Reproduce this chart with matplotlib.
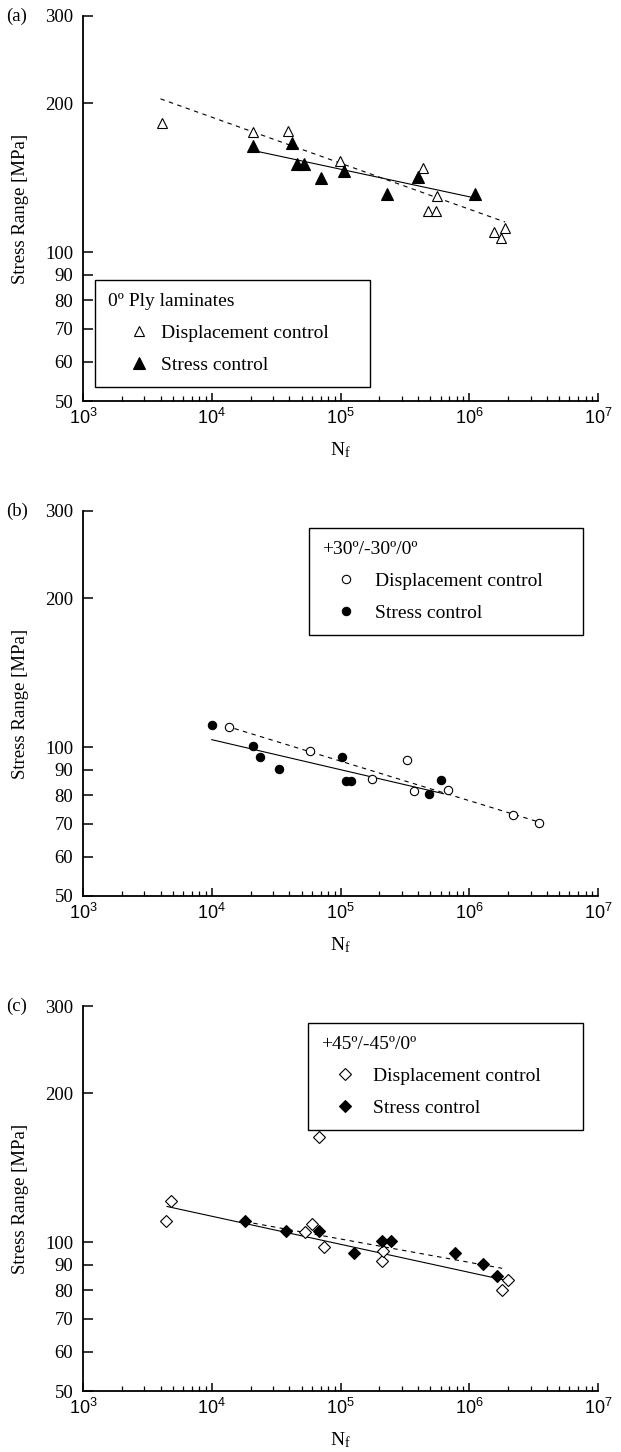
import matplotlib
matplotlib.use("Agg")
import matplotlib.pyplot as plt
from matplotlib.lines import Line2D
from matplotlib.ticker import LogLocator, NullFormatter, NullLocator

plt.rcParams['font.family'] = ['Liberation Serif', 'DejaVu Serif']

# panel (a): 0 deg ply laminates
a_disp_n = [4.1e3, 2.1e4, 3.9e4, 9.9e4, 4.0e5, 4.4e5, 4.8e5, 5.5e5, 5.6e5, 1.55e6, 1.75e6, 1.9e6]
a_disp_s = [182, 175, 176, 153, 142, 148, 121, 121, 130, 110, 107, 112]
a_str_n = [2.1e4, 4.2e4, 4.6e4, 5.2e4, 7.1e4, 1.07e5, 2.3e5, 4.0e5, 1.1e6]
a_str_s = [164, 166, 151, 151, 141, 146, 131, 142, 131]
a_solid_n = [2.2e4, 1.05e6]
a_solid_s = [160, 129]
a_dash_n = [4.0e3, 1.9e6]
a_dash_s = [204, 115]

# panel (b): +30/-30/0
b_disp_n = [1.37e4, 5.8e4, 1.77e5, 3.3e5, 3.7e5, 6.8e5, 2.2e6, 3.5e6]
b_disp_s = [110, 98, 86, 94, 81.5, 82, 73, 70.3]
b_str_n = [1.0e4, 2.1e4, 2.35e4, 3.3e4, 1.03e5, 1.1e5, 1.2e5, 4.9e5, 6.0e5]
b_str_s = [111, 100.5, 95.3, 90.3, 95.3, 85.5, 85.5, 80.4, 85.8]
b_solid_n = [1.0e4, 6.3e5]
b_solid_s = [103.5, 80.5]
b_dash_n = [1.5e4, 3.5e6]
b_dash_s = [109, 70.5]

# panel (c): +45/-45/0
c_disp_n = [4.4e3, 4.8e3, 5.3e4, 6.0e4, 6.8e4, 7.4e4, 2.1e5, 2.15e5, 1.8e6, 2.0e6]
c_disp_s = [110.5, 121, 104.6, 109, 163, 97.8, 91.5, 96, 80, 84]
c_str_n = [1.8e4, 3.8e4, 6.8e4, 1.28e5, 2.1e5, 2.45e5, 7.8e5, 1.28e6, 1.65e6]
c_str_s = [110.4, 105.4, 105.4, 95.2, 100.5, 100.3, 95.2, 90.3, 85.4]
c_solid_n = [4.5e3, 2.0e6]
c_solid_s = [118, 83.5]
c_dash_n = [1.8e4, 1.8e6]
c_dash_s = [110, 88.5]

y_ticks = [50, 60, 70, 80, 90, 100, 200, 300]
x_ticks = [1e3, 1e4, 1e5, 1e6, 1e7]
x_labels = [r'$\mathregular{10^{%d}}$' % e for e in range(3, 8)]

W, H = 621, 1452
fig = plt.figure(figsize=(W / 100, H / 100), dpi=100)


def draw_panel(top, tag, title, mk, ms_open, ms_fill, disp, strs, solid, dash, box, hl, htp):
    ax = fig.add_axes([83 / W, 1 - (top + 385) / H, 515 / W, 385 / H])
    ax.set_xscale('log')
    ax.set_yscale('log')

    ax.plot(solid[0], solid[1], color='black', lw=0.8, zorder=2)
    ax.plot(dash[0], dash[1], color='black', lw=0.8, ls=(0, (4, 4)), zorder=2)
    ax.plot(disp[0], disp[1], ls='none', marker=mk, ms=ms_open, mfc='white',
            mec='black', mew=0.8, zorder=3)
    ax.plot(strs[0], strs[1], ls='none', marker=mk, ms=ms_fill, mfc='black',
            mec='black', mew=0.8, zorder=4)

    ax.set_xlim(1e3, 1e7)
    ax.set_ylim(50, 300)
    ax.set_yticks(y_ticks, labels=[str(v) for v in y_ticks])
    ax.yaxis.set_minor_locator(NullLocator())
    ax.set_xticks(x_ticks, labels=x_labels)
    ax.xaxis.set_minor_locator(LogLocator(base=10, subs=range(2, 10)))
    ax.xaxis.set_minor_formatter(NullFormatter())
    for lab in ax.get_xticklabels():
        lab.set_fontfamily('Liberation Sans')

    for side in ['top', 'right']:
        ax.spines[side].set_visible(False)
    for side in ['left', 'bottom']:
        ax.spines[side].set_linewidth(1.3)

    ax.tick_params(axis='y', which='major', direction='in', length=7, width=1.1,
                   pad=7, labelsize=13.5)
    ax.tick_params(axis='x', which='major', direction='in', length=5.5, width=1.1,
                   pad=5, labelsize=13)
    ax.tick_params(axis='x', which='minor', direction='in', length=3.5, width=0.9)

    ax.set_ylabel('Stress Range [MPa]', fontsize=13.5)
    ax.yaxis.set_label_coords(-0.105, 0.5)
    ax.set_xlabel(r'$\mathregular{N_f}$', fontsize=14)
    ax.xaxis.set_label_coords(0.5, -0.103)
    ax.text(-0.149, 1.0, tag, transform=ax.transAxes, ha='left', va='center',
            fontsize=13.5)

    handles = [
        Line2D([], [], ls='none', marker=mk, ms=ms_open, mfc='white', mec='black', mew=0.8),
        Line2D([], [], ls='none', marker=mk, ms=ms_fill, mfc='black', mec='black', mew=0.8),
    ]
    x0, y0, x1, y1 = box
    leg = ax.legend(handles, ['Displacement control', 'Stress control'], title=title,
                    loc='upper left',
                    bbox_to_anchor=(x0 / W, 1 - y1 / H, (x1 - x0) / W, (y1 - y0) / H),
                    bbox_transform=fig.transFigure, mode='expand', borderaxespad=0,
                    alignment='left', fancybox=False, edgecolor='black', framealpha=1,
                    borderpad=0.65, labelspacing=0.75, handlelength=hl,
                    handletextpad=htp, prop={'size': 14}, title_fontsize=14,
                    numpoints=1)
    leg.get_frame().set_linewidth(1.0)
    return ax


draw_panel(16, '(a)', '0º Ply laminates', '^', 6.5, 8.5,
           (a_disp_n, a_disp_s), (a_str_n, a_str_s),
           (a_solid_n, a_solid_s), (a_dash_n, a_dash_s),
           (95, 280, 370, 388), 3.23, -0.48)
draw_panel(511, '(b)', '+30º/-30º/0º', 'o', 6, 6,
           (b_disp_n, b_disp_s), (b_str_n, b_str_s),
           (b_solid_n, b_solid_s), (b_dash_n, b_dash_s),
           (309, 528, 583, 638), 2.51, 0.24)
draw_panel(1006, '(c)', '+45º/-45º/0º', 'D', 6, 6,
           (c_disp_n, c_disp_s), (c_str_n, c_str_s),
           (c_solid_n, c_solid_s), (c_dash_n, c_dash_s),
           (308, 1023, 583, 1133), 2.51, 0.17)

fig.savefig('out.png', dpi=100)
